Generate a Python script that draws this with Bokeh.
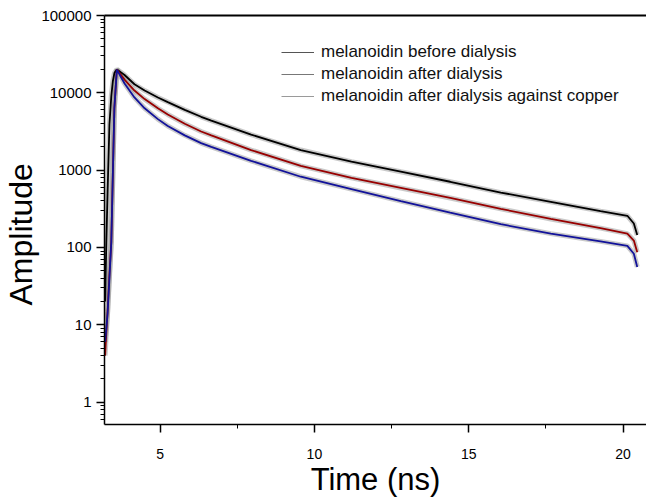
from bokeh.plotting import figure
from bokeh.models import Range1d, FixedTicker, LinearAxis, Legend, LegendItem, PrintfTickFormatter, Title
from bokeh.embed import file_html
from bokeh.resources import INLINE

# ---- data ----
time_ns = [3.22, 3.26, 3.30, 3.36, 3.42, 3.47, 3.52, 3.60, 3.85, 4.17, 4.50, 4.93, 5.25,
           5.80, 6.33, 6.66, 7.95, 9.56, 11.2, 12.8, 14.4, 16.04, 17.66, 19.27, 20.14, 20.35, 20.46]
before_dialysis = [20, 120, 520, 3900, 9000, 14100, 18000, 20100, 17000, 12900, 10700, 8710, 7590,
                   6030, 4900, 4370, 2880, 1820, 1290, 955, 708, 513, 389, 295, 257, 204, 145]
after_dialysis = [4, 8, 15, 45, 117, 870, 6380, 20000, 14800, 10700, 8300, 6310, 5250,
                  3980, 3160, 2820, 1820, 1135, 794, 589, 437, 316, 234, 178, 151, 123, 87]
against_copper = [6, 9, 14, 40, 117, 870, 6380, 19950, 13200, 8710, 6310, 4570, 3720,
                  2820, 2240, 2000, 1320, 822, 569, 398, 282, 200, 151, 120, 105, 83, 56]
series_names = ["melanoidin before dialysis", "melanoidin after dialysis",
                "melanoidin after dialysis against copper"]
x_ticks = [5, 10, 15, 20]
x_minor_ticks = [7.5, 12.5, 17.5]
y_ticks = [1, 10, 100, 1000, 10000, 100000]

FONT = "Liberation Sans"

p = figure(width=646, height=502, x_range=Range1d(3.2, 20.76), y_range=Range1d(0.514, 100000),
           y_axis_type="log", output_backend="svg", toolbar_location=None,
           min_border_left=103, min_border_right=0, min_border_top=15, min_border_bottom=78)
p.background_fill_color = "white"
p.border_fill_color = "white"
p.outline_line_color = None
p.xgrid.visible = False
p.ygrid.visible = False

colors = ["#000000", "#980000", "#12129a"]
data = [before_dialysis, after_dialysis, against_copper]
for vals in data:
    p.line(time_ns, vals, line_color="#8a8a8a", line_width=5, line_alpha=0.45)
for vals, col in zip(data, colors):
    p.line(time_ns, vals, line_color=col, line_width=1.8)

# legend samples (thin grey strokes as in the reference)
legend_cols = ["#555555", "#777777", "#9a9a9a"]
items = []
for name, lc, vals in zip(series_names, legend_cols, data):
    r = p.line(time_ns, vals, line_color=lc, line_width=1, visible=False)
    items.append(LegendItem(label=name, renderers=[r]))
legend = Legend(items=items, location=(177, 318), padding=0, margin=0, spacing=2,
                glyph_width=33, glyph_height=20, label_height=20, label_standoff=7,
                border_line_color=None, background_fill_alpha=0,
                label_text_font=FONT, label_text_font_size="17px", label_text_color="#111111")
p.add_layout(legend)

# axes
xa = p.xaxis[0]
xa.ticker = FixedTicker(ticks=x_ticks, minor_ticks=x_minor_ticks)
ya = p.yaxis[0]
ya.ticker = FixedTicker(ticks=y_ticks,
                        minor_ticks=[m * 10 ** k for k in range(-1, 5) for m in range(2, 10)])
ya.formatter = PrintfTickFormatter(format="%d")
for ax in (xa, ya):
    ax.axis_line_width = 1.5
    ax.axis_line_color = "black"
    ax.major_tick_out = 8
    ax.major_tick_in = 0
    ax.minor_tick_out = 4
    ax.minor_tick_in = 0
    ax.major_tick_line_width = 1.5
    ax.minor_tick_line_width = 1
    ax.major_label_text_font = FONT
    ax.major_label_text_font_style = "normal"
    ax.major_label_text_color = "black"
ya.major_label_text_font_size = "15px"
ya.major_label_standoff = 5
xa.major_label_text_font_size = "14px"
xa.major_label_standoff = 16
xa.axis_label = "Time (ns)"
xa.axis_label_text_font = FONT
xa.axis_label_text_font_size = "31px"
xa.axis_label_text_font_style = "normal"
xa.axis_label_text_color = "black"
xa.axis_label_standoff = 0

top = LinearAxis(ticker=FixedTicker(ticks=[]), major_tick_line_color=None, minor_tick_line_color=None,
                 major_label_text_font_size="0px", major_label_standoff=0, axis_line_width=2)
p.add_layout(top, "above")

ytitle = Title(text="Amplitude", align="left", offset=119, text_font=FONT, text_font_size="32px",
               text_font_style="normal", text_color="black", standoff=0)
p.add_layout(ytitle, "left")

open("out.html", "w").write(file_html(p, INLINE))
